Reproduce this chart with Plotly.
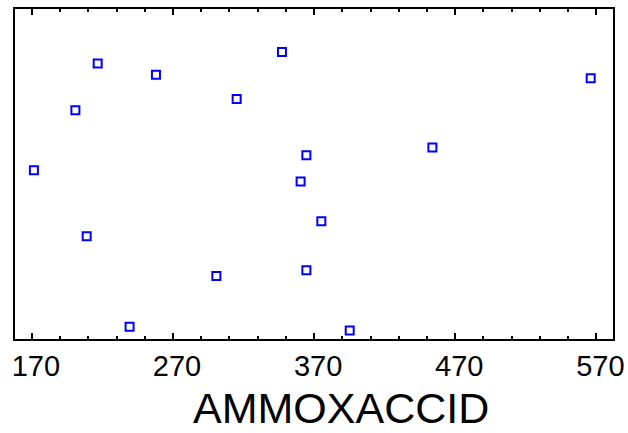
import plotly.graph_objects as go

ammoxaccid = [171.4, 200.8, 208.8, 216.6, 239.2, 257.9, 300.7, 315.1, 347.2,
              360.4, 364.5, 364.5, 375.1, 395.2, 453.8, 566.0]
response = [51.1, 69.3, 31.1, 83.5, 3.7, 80.1, 19.1, 72.7, 87.0,
            47.7, 55.7, 20.8, 35.7, 2.6, 58.0, 79.0]
x_ticks = [170, 270, 370, 470, 570]
x_title = "AMMOXACCID"

fig = go.Figure(go.Scatter(
    x=ammoxaccid, y=response, mode="markers",
    marker=dict(symbol="square-open", size=8, color="#0000ff",
                line=dict(width=2, color="#0000ff")),
    showlegend=False,
))

fig.update_layout(
    width=628, height=433,
    margin=dict(l=15, r=15, t=9, b=94),
    paper_bgcolor="white", plot_bgcolor="white",
    font=dict(family="Liberation Sans, Arial, sans-serif", color="black"),
    annotations=[dict(
        text=x_title, xref="paper", yref="paper",
        x=(341 - 15) / 598, y=-(407.5 - 339) / 330,
        xanchor="center", yanchor="middle", showarrow=False,
        font=dict(size=43, color="black"),
    )],
)
fig.update_xaxes(
    range=[158.0, 581.8], tickvals=x_ticks, ticktext=[str(v) for v in x_ticks],
    ticks="inside", ticklen=6, tickwidth=2, tickcolor="black",
    minor=dict(dtick=20, tick0=170, ticks="inside", ticklen=3, tickwidth=1.5, tickcolor="black"),
    showline=True, linewidth=2, linecolor="black", mirror="ticks",
    showgrid=False, zeroline=False, automargin=False,
    tickfont=dict(size=29), ticklabelstandoff=0, ticklabelshift=4,
)
fig.update_yaxes(
    range=[0, 100], showticklabels=False, ticks="", automargin=False,
    showline=True, linewidth=2, linecolor="black", mirror=True,
    showgrid=False, zeroline=False,
)

fig.write_html("out.html")
